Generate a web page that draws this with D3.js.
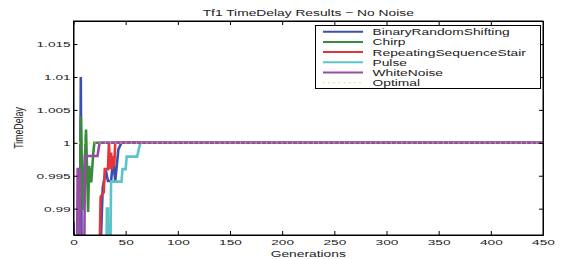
<!DOCTYPE html>
<html>
<head>
<meta charset="utf-8">
<script src="https://cdn.jsdelivr.net/npm/d3@7"></script>
<style>
  body { margin: 0; background: #fff; }
  svg { display: block; font-family: "Liberation Sans", Arial, Helvetica, sans-serif; }
</style>
</head>
<body>
<div id="chart"></div>
<script>
// Chart data: [generation, TimeDelay]
const seriesNames = ['BinaryRandomShifting', 'Chirp', 'RepeatingSequenceStair', 'Pulse', 'WhiteNoise'];

const binaryRandomShifting = [[0, 0.988], [1, 0.975], [6, 0.975], [7, 1.01], [8, 0.975], [24, 0.975],
  [28, 0.9932], [31, 0.9958], [33, 0.9942], [36, 0.9942], [38, 0.9975], [40, 0.9942], [43, 0.999], [46, 1], [450, 1]];
const chirp = [[0, 0.975], [5, 0.975], [7, 1.004], [9, 0.9898], [12, 1.002], [14, 0.9895],
  [15, 0.9965], [17, 0.994], [19, 0.9985], [20, 1], [450, 1]];
const repeatingSequenceStair = [[0, 0.975], [24, 0.975], [26, 0.9918], [29, 0.9925], [30, 0.996], [33, 0.996],
  [34, 1], [35, 0.996], [36, 0.9985], [37, 0.996], [38, 0.998], [39, 0.9965], [40, 1], [450, 1]];
const pulse = [[0, 0.975], [31, 0.975], [32, 0.99], [33, 0.99], [34, 0.975], [35, 0.975], [36, 0.9941],
  [46, 0.9941], [47, 0.996], [50, 0.996], [51, 0.9979], [61, 0.9979], [64, 1], [450, 1]];
const whiteNoise = [[0, 0.975], [3, 0.975], [4, 0.996], [6, 0.996], [7, 0.975],
  [10, 0.975], [11, 0.998], [23, 0.998], [25, 1], [450, 1]];
const optimal = [[0, 1], [450, 1]];

const xTicks = [0, 50, 100, 150, 200, 250, 300, 350, 400, 450];
const yTicks = [0.99, 0.995, 1, 1.005, 1.01, 1.015];
const yTickLabels = ['0.99', '0.995', '1', '1.005', '1.01', '1.015'];

const colors = ['#3a4fae', '#3a8a3c', '#e63539', '#5cc4c9', '#9a4aa8'];
const optimalColor = '#cbdc6a';

// Layout
const width = 563, height = 259;
const plot = { left: 73.5, right: 543, top: 21, bottom: 235 };
const SX_TICK = 1.8;   // the reference text is stretched sideways
const SX_LABEL = 1.47;

const svg = d3.select('#chart').append('svg')
  .attr('width', width)
  .attr('height', height);

const x = d3.scaleLinear().domain([0, 450]).range([plot.left, plot.right]);
const y = d3.scaleLinear().domain([0.986, 1.0185]).range([plot.bottom, plot.top]);

// Clip lines to the axes box
svg.append('clipPath').attr('id', 'plot-clip')
  .append('rect')
  .attr('x', plot.left).attr('y', plot.top)
  .attr('width', plot.right - plot.left).attr('height', plot.bottom - plot.top);

const line = d3.line().x(d => x(d[0])).y(d => y(d[1]));

const allSeries = [binaryRandomShifting, chirp, repeatingSequenceStair, pulse, whiteNoise];
const lines = svg.append('g').attr('clip-path', 'url(#plot-clip)');

lines.selectAll('path.series')
  .data(allSeries)
  .enter()
  .append('path')
  .attr('class', 'series')
  .attr('d', line)
  .attr('fill', 'none')
  .attr('stroke', (d, i) => colors[i])
  .attr('stroke-width', 2.6)
  .attr('stroke-linejoin', 'miter');

lines.append('path')
  .datum(optimal)
  .attr('d', line)
  .attr('fill', 'none')
  .attr('stroke', optimalColor)
  .attr('stroke-width', 1.2)
  .attr('stroke-dasharray', '1.2,4');

// Axes (ticks inside, box on)
const axisBottom = svg.append('g')
  .attr('transform', `translate(0,${plot.bottom})`)
  .call(d3.axisBottom(x).tickValues(xTicks).tickSize(-4).tickPadding(4.3).tickSizeOuter(0));
svg.append('g')
  .attr('transform', `translate(0,${plot.top})`)
  .call(d3.axisTop(x).tickValues(xTicks).tickSize(-4).tickSizeOuter(0).tickFormat(''));
const axisLeft = svg.append('g')
  .attr('transform', `translate(${plot.left},0)`)
  .call(d3.axisLeft(y).tickValues(yTicks).tickSize(-4).tickSizeOuter(0)
    .tickFormat((d, i) => yTickLabels[i]));
svg.append('g')
  .attr('transform', `translate(${plot.right},0)`)
  .call(d3.axisRight(y).tickValues(yTicks).tickSize(-4).tickSizeOuter(0).tickFormat(''));

svg.selectAll('.domain').attr('stroke', '#000');
svg.selectAll('.tick line').attr('stroke', '#000');

axisBottom.selectAll('text')
  .attr('font-size', 7.6)
  .attr('fill', '#222')
  .attr('transform', `scale(${SX_TICK},1)`);
axisLeft.selectAll('text')
  .attr('font-size', 7.6)
  .attr('fill', '#222')
  .attr('x', -2.8 / SX_TICK)
  .attr('transform', `scale(${SX_TICK},1)`);

// Box outline
svg.append('rect')
  .attr('x', plot.left).attr('y', plot.top)
  .attr('width', plot.right - plot.left).attr('height', plot.bottom - plot.top)
  .attr('fill', 'none').attr('stroke', '#000').attr('stroke-width', 1);

// Title and axis labels
svg.append('text')
  .attr('transform', `translate(${(plot.left + plot.right) / 2},15.6) scale(${SX_LABEL},1)`)
  .attr('text-anchor', 'middle')
  .attr('font-size', 9.4)
  .attr('fill', '#222')
  .text('Tf1 TimeDelay Results \u2212 No Noise');

svg.append('text')
  .attr('transform', `translate(${(plot.left + plot.right) / 2},256.5) scale(${SX_LABEL},1)`)
  .attr('text-anchor', 'middle')
  .attr('font-size', 9.4)
  .attr('fill', '#222')
  .text('Generations');

svg.append('text')
  .attr('transform', `translate(22.5,${(plot.top + plot.bottom) / 2}) rotate(-90) scale(1,${SX_LABEL})`)
  .attr('text-anchor', 'middle')
  .attr('font-size', 8.8)
  .attr('fill', '#222')
  .text('TimeDelay');

// Legend
const legend = svg.append('g');
legend.append('rect')
  .attr('x', 315.5).attr('y', 25.5)
  .attr('width', 225).attr('height', 63)
  .attr('fill', '#fff').attr('stroke', '#000').attr('stroke-width', 1);

const legendItems = seriesNames.map((name, i) => ({ name, color: colors[i], dashed: false }))
  .concat([{ name: 'Optimal', color: optimalColor, dashed: true }]);

const entry = legend.selectAll('g.entry')
  .data(legendItems)
  .enter()
  .append('g')
  .attr('class', 'entry')
  .attr('transform', (d, i) => `translate(0,${31.7 + i * 10.2})`);

entry.append('line')
  .attr('x1', 323).attr('x2', 363)
  .attr('stroke', d => d.color)
  .attr('stroke-width', d => d.dashed ? 1.2 : 2)
  .attr('stroke-dasharray', d => d.dashed ? '1.2,4' : null);

entry.append('text')
  .attr('transform', `translate(372.5,3.4) scale(${SX_LABEL},1)`)
  .attr('font-size', 9.4)
  .attr('fill', '#222')
  .text(d => d.name);
</script>
</body>
</html>
